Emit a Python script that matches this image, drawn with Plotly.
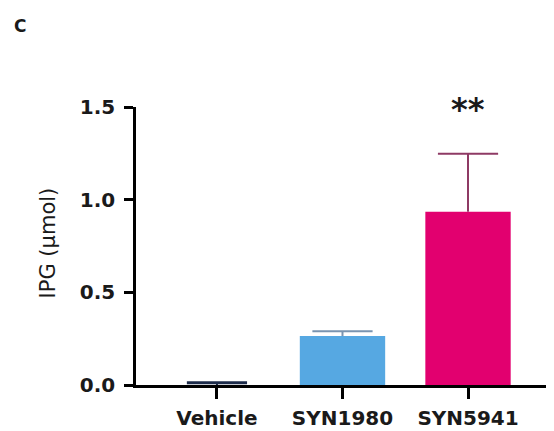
import plotly.graph_objects as go

categories = ["Vehicle", "SYN1980", "SYN5941"]
means = [0.0, 0.264, 0.935]
errors = [0.012, 0.026, 0.313]
bar_colors = ["#1c2b4a", "#56A8E2", "#E2006F"]
err_colors = ["#1c2b4a", "#7a94b0", "#8E3A64"]
y_ticks = [0.0, 0.5, 1.0, 1.5]
y_tick_text = ["0.0", "0.5", "1.0", "1.5"]

fig = go.Figure()
for c, m, e, bc, ec in zip(categories, means, errors, bar_colors, err_colors):
    fig.add_trace(go.Bar(
        x=[c], y=[m], width=0.68,
        marker=dict(color=bc, line=dict(width=0)),
        error_y=dict(type="data", array=[e], arrayminus=[0], symmetric=False,
                     color=ec, thickness=2, width=0),
        showlegend=False,
    ))
    # top cap of the one-sided error bar
    fig.add_trace(go.Scatter(
        x=[c], y=[m + e], mode="markers",
        marker=dict(symbol="line-ew", size=43,
                    line=dict(color=ec, width=3 if c == "Vehicle" else 2)),
        showlegend=False, hoverinfo="skip",
    ))

tick_font = dict(family="DejaVu Sans", size=20, color="#1a1a1a", weight="bold")

fig.update_layout(
    template="none",
    width=554, height=431,
    margin=dict(l=128, r=8, t=99, b=54, autoexpand=False),
    paper_bgcolor="white", plot_bgcolor="white",
    barmode="overlay",
    xaxis=dict(
        type="category", categoryorder="array", categoryarray=categories,
        range=[-0.645, 2.685], showline=True, linecolor="black", linewidth=2.5,
        ticks="outside", ticklen=11, tickwidth=2.5, tickcolor="black",
        tickfont=tick_font, showgrid=False, zeroline=False, automargin=False,
        ticklabelstandoff=2,
    ),
    yaxis=dict(
        range=[0, 1.5], tickvals=y_ticks, ticktext=y_tick_text,
        showline=True, linecolor="black", linewidth=2.5,
        ticks="outside", ticklen=9, tickwidth=2.5, tickcolor="black",
        tickfont=tick_font, showgrid=False, zeroline=False, automargin=False,
        ticklabelstandoff=5,
    ),
    annotations=[
        dict(text="IPG (μmol)", textangle=-90, xref="paper", yref="paper",
             x=-0.21, y=0.51, xanchor="center", yanchor="middle", showarrow=False,
             font=dict(family="DejaVu Sans", size=21, color="#1a1a1a")),
        dict(text="**", xref="x", yref="paper", x="SYN5941", y=1.0, yshift=-2,
             xanchor="center", yanchor="middle", showarrow=False,
             font=dict(family="DejaVu Sans", size=32, color="#1a1a1a", weight="bold")),
        dict(text="C", xref="paper", yref="paper", x=-0.296, y=1.335,
             xanchor="left", yanchor="top", showarrow=False,
             font=dict(family="DejaVu Sans", size=17, color="#1a1a1a", weight="bold")),
    ],
)

fig.write_html("out.html")
